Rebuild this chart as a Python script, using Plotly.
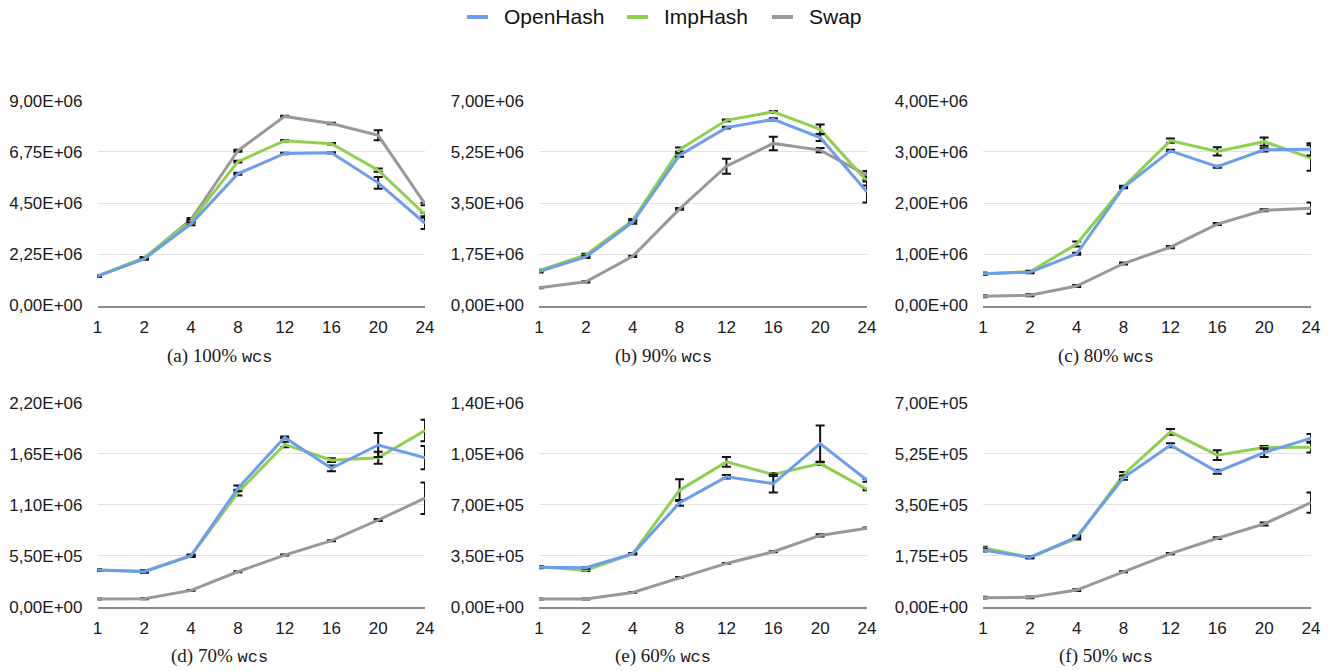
import plotly.graph_objects as go

W, H = 1335, 671

categories = ["1", "2", "4", "8", "12", "16", "20", "24"]
series_names = ["OpenHash", "ImpHash", "Swap"]
series_colors = ["#6d9eeb", "#8fd14f", "#999999"]
captions = ["(a) 100%", "(b) 90%", "(c) 80%", "(d) 70%", "(e) 60%", "(f) 50%"]
caption_suffix = "wcs"

# ---- (a) 100% wcs ----
open_a = [1.29e6, 2.05e6, 3.59e6, 5.79e6, 6.68e6, 6.71e6, 5.39e6, 3.61e6]
imp_a = [1.29e6, 2.10e6, 3.71e6, 6.32e6, 7.24e6, 7.11e6, 5.95e6, 4.00e6]
swap_a = [1.29e6, 2.08e6, 3.78e6, 6.80e6, 8.31e6, 8.00e6, 7.48e6, 4.46e6]
open_a_err = [0.02e6, 0.04e6, 0.06e6, 0.04e6, 0.03e6, 0.03e6, 0.26e6, 0.25e6]
imp_a_err = [0.02e6, 0.03e6, 0.05e6, 0.04e6, 0.03e6, 0.03e6, 0.07e6, 0.08e6]
swap_a_err = [0.02e6, 0.03e6, 0.06e6, 0.04e6, 0.03e6, 0.03e6, 0.22e6, 0.05e6]
ticks_a = [0, 2.25e6, 4.5e6, 6.75e6, 9e6]
ticklabels_a = ["0,00E+00", "2,25E+06", "4,50E+06", "6,75E+06", "9,00E+06"]

# ---- (b) 90% wcs ----
open_b = [1.16e6, 1.66e6, 2.85e6, 5.14e6, 6.08e6, 6.36e6, 5.74e6, 3.88e6]
imp_b = [1.19e6, 1.73e6, 2.91e6, 5.33e6, 6.33e6, 6.62e6, 6.02e6, 4.25e6]
swap_b = [0.61e6, 0.81e6, 1.68e6, 3.30e6, 4.76e6, 5.54e6, 5.31e6, 4.45e6]
open_b_err = [0.03e6, 0.04e6, 0.06e6, 0.06e6, 0.03e6, 0.04e6, 0.12e6, 0.36e6]
imp_b_err = [0.03e6, 0.04e6, 0.05e6, 0.07e6, 0.03e6, 0.03e6, 0.17e6, 0.15e6]
swap_b_err = [0.02e6, 0.02e6, 0.02e6, 0.03e6, 0.26e6, 0.23e6, 0.07e6, 0.15e6]
ticks_b = [0, 1.75e6, 3.5e6, 5.25e6, 7e6]
ticklabels_b = ["0,00E+00", "1,75E+06", "3,50E+06", "5,25E+06", "7,00E+06"]

# ---- (c) 80% wcs ----
open_c = [0.62e6, 0.65e6, 1.01e6, 2.31e6, 3.02e6, 2.71e6, 3.04e6, 3.05e6]
imp_c = [0.62e6, 0.66e6, 1.20e6, 2.32e6, 3.22e6, 3.01e6, 3.20e6, 2.88e6]
swap_c = [0.18e6, 0.20e6, 0.38e6, 0.82e6, 1.14e6, 1.59e6, 1.86e6, 1.90e6]
open_c_err = [0.02e6, 0.02e6, 0.02e6, 0.02e6, 0.02e6, 0.02e6, 0.03e6, 0.12e6]
imp_c_err = [0.02e6, 0.02e6, 0.05e6, 0.02e6, 0.04e6, 0.08e6, 0.08e6, 0.25e6]
swap_c_err = [0.02e6, 0.02e6, 0.02e6, 0.02e6, 0.02e6, 0.02e6, 0.02e6, 0.11e6]
ticks_c = [0, 1e6, 2e6, 3e6, 4e6]
ticklabels_c = ["0,00E+00", "1,00E+06", "2,00E+06", "3,00E+06", "4,00E+06"]

# ---- (d) 70% wcs ----
open_d = [0.395e6, 0.377e6, 0.55e6, 1.276e6, 1.826e6, 1.492e6, 1.744e6, 1.607e6]
imp_d = [0.395e6, 0.382e6, 0.55e6, 1.23e6, 1.75e6, 1.58e6, 1.607e6, 1.90e6]
swap_d = [0.083e6, 0.086e6, 0.176e6, 0.377e6, 0.557e6, 0.712e6, 0.935e6, 1.17e6]
open_d_err = [0.01e6, 0.01e6, 0.01e6, 0.03e6, 0.01e6, 0.03e6, 0.13e6, 0.126e6]
imp_d_err = [0.01e6, 0.01e6, 0.01e6, 0.03e6, 0.03e6, 0.02e6, 0.065e6, 0.117e6]
swap_d_err = [0.005e6, 0.005e6, 0.005e6, 0.005e6, 0.005e6, 0.005e6, 0.01e6, 0.17e6]
ticks_d = [0, 0.55e6, 1.1e6, 1.65e6, 2.2e6]
ticklabels_d = ["0,00E+00", "5,50E+05", "1,10E+06", "1,65E+06", "2,20E+06"]

# ---- (e) 60% wcs ----
open_e = [0.270e6, 0.267e6, 0.363e6, 0.713e6, 0.891e6, 0.845e6, 1.119e6, 0.868e6]
imp_e = [0.274e6, 0.251e6, 0.363e6, 0.800e6, 0.994e6, 0.907e6, 0.982e6, 0.804e6]
swap_e = [0.053e6, 0.053e6, 0.098e6, 0.200e6, 0.297e6, 0.377e6, 0.489e6, 0.539e6]
open_e_err = [0.006e6, 0.006e6, 0.003e6, 0.02e6, 0.012e6, 0.062e6, 0.124e6, 0.01e6]
imp_e_err = [0.006e6, 0.006e6, 0.003e6, 0.075e6, 0.033e6, 0.01e6, 0.01e6, 0.005e6]
swap_e_err = [0.003e6, 0.003e6, 0.003e6, 0.003e6, 0.003e6, 0.003e6, 0.008e6, 0.005e6]
ticks_e = [0, 0.35e6, 0.7e6, 1.05e6, 1.4e6]
ticklabels_e = ["0,00E+00", "3,50E+05", "7,00E+05", "1,05E+06", "1,40E+06"]

# ---- (f) 50% wcs ----
open_f = [1.945e5, 1.69e5, 2.39e5, 4.43e5, 5.54e5, 4.63e5, 5.29e5, 5.78e5]
imp_f = [2.02e5, 1.69e5, 2.35e5, 4.54e5, 6.00e5, 5.20e5, 5.46e5, 5.47e5]
swap_f = [0.31e5, 0.32e5, 0.57e5, 1.20e5, 1.82e5, 2.35e5, 2.84e5, 3.57e5]
open_f_err = [0.05e5, 0.03e5, 0.05e5, 0.07e5, 0.07e5, 0.07e5, 0.15e5, 0.15e5]
imp_f_err = [0.04e5, 0.03e5, 0.04e5, 0.08e5, 0.10e5, 0.17e5, 0.05e5, 0.18e5]
swap_f_err = [0.03e5, 0.03e5, 0.03e5, 0.02e5, 0.02e5, 0.03e5, 0.05e5, 0.35e5]
ticks_f = [0, 1.75e5, 3.5e5, 5.25e5, 7e5]
ticklabels_f = ["0,00E+00", "1,75E+05", "3,50E+05", "5,25E+05", "7,00E+05"]

panels = [
    (open_a, imp_a, swap_a, open_a_err, imp_a_err, swap_a_err, ticks_a, ticklabels_a),
    (open_b, imp_b, swap_b, open_b_err, imp_b_err, swap_b_err, ticks_b, ticklabels_b),
    (open_c, imp_c, swap_c, open_c_err, imp_c_err, swap_c_err, ticks_c, ticklabels_c),
    (open_d, imp_d, swap_d, open_d_err, imp_d_err, swap_d_err, ticks_d, ticklabels_d),
    (open_e, imp_e, swap_e, open_e_err, imp_e_err, swap_e_err, ticks_e, ticklabels_e),
    (open_f, imp_f, swap_f, open_f_err, imp_f_err, swap_f_err, ticks_f, ticklabels_f),
]

# layout geometry (pixels)
col_px = [(97.5, 425.0), (539.0, 867.0), (983.0, 1311.0)]
row_px = [(100.7, 305.5), (402.7, 606.7)]
caption_x_px = [220, 663, 1106]
caption_y_px = [356, 656]

FONT = "Liberation Sans, Arial, Helvetica, sans-serif"

fig = go.Figure()
xpos = list(range(len(categories)))
layout = {}
annotations = []

for i, (o, im, s, oe, ie, se, tv, tt) in enumerate(panels):
    r, c = divmod(i, 3)
    ax = "" if i == 0 else str(i + 1)
    vals = [o, im, s]
    errs = [oe, ie, se]
    # draw order: Swap, ImpHash, OpenHash (OpenHash on top)
    for k in [2, 1, 0]:
        fig.add_trace(go.Scatter(
            x=xpos, y=vals[k], mode="lines", name=series_names[k],
            line=dict(color=series_colors[k], width=3),
            error_y=dict(type="data", array=errs[k], color="#111111",
                         thickness=2, width=4.5),
            showlegend=False, cliponaxis=False,
            xaxis="x" + ax, yaxis="y" + ax,
        ))
    x0, x1 = col_px[c]
    ytop, ybot = row_px[r]
    layout["xaxis" + ax] = dict(
        domain=[x0 / W, x1 / W], range=[0, len(categories) - 1],
        anchor="y" + ax, tickvals=xpos, ticktext=categories,
        showgrid=False, zeroline=False, showline=True,
        linecolor="#8a8a8a", linewidth=1.5, ticks="",
        tickfont=dict(family=FONT, size=17, color="#1a1a1a"),
        ticklabelstandoff=5, fixedrange=True, automargin=False,
    )
    layout["yaxis" + ax] = dict(
        domain=[1 - ybot / H, 1 - ytop / H], range=[0, tv[-1]],
        anchor="x" + ax, tickvals=tv, ticktext=tt,
        showgrid=True, gridcolor="#e2e2e2", gridwidth=1,
        zeroline=False, showline=False, ticks="",
        tickfont=dict(family=FONT, size=17, color="#1a1a1a"),
        ticklabelstandoff=14, fixedrange=True, automargin=False,
    )
    annotations.append(dict(
        xref="paper", yref="paper",
        x=caption_x_px[c] / W, y=1 - caption_y_px[r] / H,
        xanchor="center", yanchor="middle", showarrow=False,
        text=captions[i] + " <span style='font-family:Liberation Mono, DejaVu Sans Mono, monospace;font-size:17px'>"
             + caption_suffix + "</span>",
        font=dict(family="Liberation Serif, Times New Roman, serif", size=19, color="#1a1a1a"),
    ))

# manual legend
legend_sample_px = [(467, 488), (627, 648), (772, 793)]
legend_y_px = 17
shapes = []
for k, name in enumerate(series_names):
    sx0, sx1 = legend_sample_px[k]
    shapes.append(dict(type="line", xref="paper", yref="paper",
                       x0=sx0 / W, x1=sx1 / W, y0=1 - legend_y_px / H, y1=1 - legend_y_px / H,
                       line=dict(color=series_colors[k], width=4)))
    annotations.append(dict(
        xref="paper", yref="paper", x=(sx1 + 14) / W, y=1 - legend_y_px / H,
        xanchor="left", yanchor="middle", showarrow=False, text=name,
        font=dict(family=FONT, size=21, color="#111111"),
    ))

fig.update_layout(
    width=W, height=H, margin=dict(l=0, r=0, t=0, b=0, autoexpand=False),
    paper_bgcolor="white", plot_bgcolor="white",
    showlegend=False, annotations=annotations, shapes=shapes,
    **layout,
)

fig.write_html(
    "out.html",
    config={"displayModeBar": False},
    post_script="document.body.style.margin='0px';document.body.style.padding='0px';document.body.style.overflow='hidden';",
)
